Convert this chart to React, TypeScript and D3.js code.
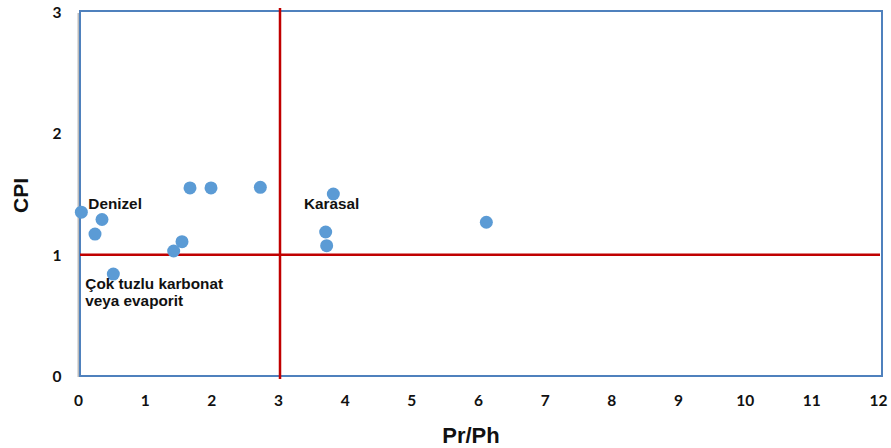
import React from "react";
import * as d3 from "d3";

const prPh = [0.02, 0.33, 0.225, 1.65, 1.965, 2.705, 1.53, 1.405, 0.5, 3.8, 3.685, 3.7, 6.095];
const cpi = [1.35, 1.29, 1.17, 1.55, 1.55, 1.555, 1.107, 1.03, 0.84, 1.5, 1.187, 1.074, 1.267];
const xTicks = [0, 1, 2, 3, 4, 5, 6, 7, 8, 9, 10, 11, 12];
const yTicks = [0, 1, 2, 3];
const refX = 3;
const refY = 1;
const regionLabels = [
  { x: 0.125, y: 1.38, lines: ["Denizel"] },
  { x: 3.36, y: 1.38, lines: ["Karasal"] },
  { x: 0.08, y: 0.715, lines: ["Çok tuzlu karbonat", "veya evaporit"] },
];

export default function App() {
  const W = 891, H = 448;
  const x = d3.scaleLinear().domain([0, 12]).range([80, 880]);
  const y = d3.scaleLinear().domain([0, 3]).range([376, 12]);
  const tickFont = "Lato, 'Open Sans', sans-serif";
  const labFont = "'Liberation Sans', Arial, sans-serif";
  return (
    <svg width={W} height={H} style={{ position: "absolute", left: 0, top: 0 }}>
      <rect width={W} height={H} fill="white" />
      <line x1={x(0) - 1.5} x2={x(0) - 1.5} y1={y(3) + 1} y2={y(0) + 1} stroke="#bbb" strokeWidth={2} />
      <rect x={x(0)} y={y(3) - 1} width={x(12) - x(0) + 2} height={y(0) - y(3) + 1} fill="none" stroke="#4F81BD" strokeWidth={2} />
      <line x1={x(refX)} x2={x(refX)} y1={y(3) - 4} y2={y(0) + 3} stroke="#C00000" strokeWidth={2.5} />
      <line x1={x(0)} x2={x(12)} y1={y(refY)} y2={y(refY)} stroke="#C00000" strokeWidth={2.5} />
      {prPh.map((v, i) => (
        <circle key={i} cx={x(v)} cy={y(cpi[i])} r={6.5} fill="#5B9BD5" />
      ))}
      {regionLabels.map((l, i) => (
        <text key={i} x={x(l.x)} y={y(l.y)} fontFamily={labFont} fontWeight="bold" fontSize={15.3} fill="#111">
          {l.lines.map((t, j) => (
            <tspan key={j} x={x(l.x)} dy={j === 0 ? 0 : 16.5}>{t}</tspan>
          ))}
        </text>
      ))}
      {xTicks.map((t) => (
        <text key={t} x={x(t) - 1.5} y={406} textAnchor="middle" fontFamily={tickFont} fontWeight="bold" fontSize={15.5} fill="#111">{t}</text>
      ))}
      {yTicks.map((t) => (
        <text key={t} x={61.5} y={y(t) + 6} textAnchor="end" fontFamily={tickFont} fontWeight="bold" fontSize={15.5} fill="#111">{t}</text>
      ))}
      <text x={471} y={443} textAnchor="middle" fontFamily={labFont} fontWeight="bold" fontSize={22} fill="#111">Pr/Ph</text>
      <text transform={`translate(28,195.5) rotate(-90)`} textAnchor="middle" fontFamily={labFont} fontWeight="bold" fontSize={21} fill="#111">CPI</text>
    </svg>
  );
}
